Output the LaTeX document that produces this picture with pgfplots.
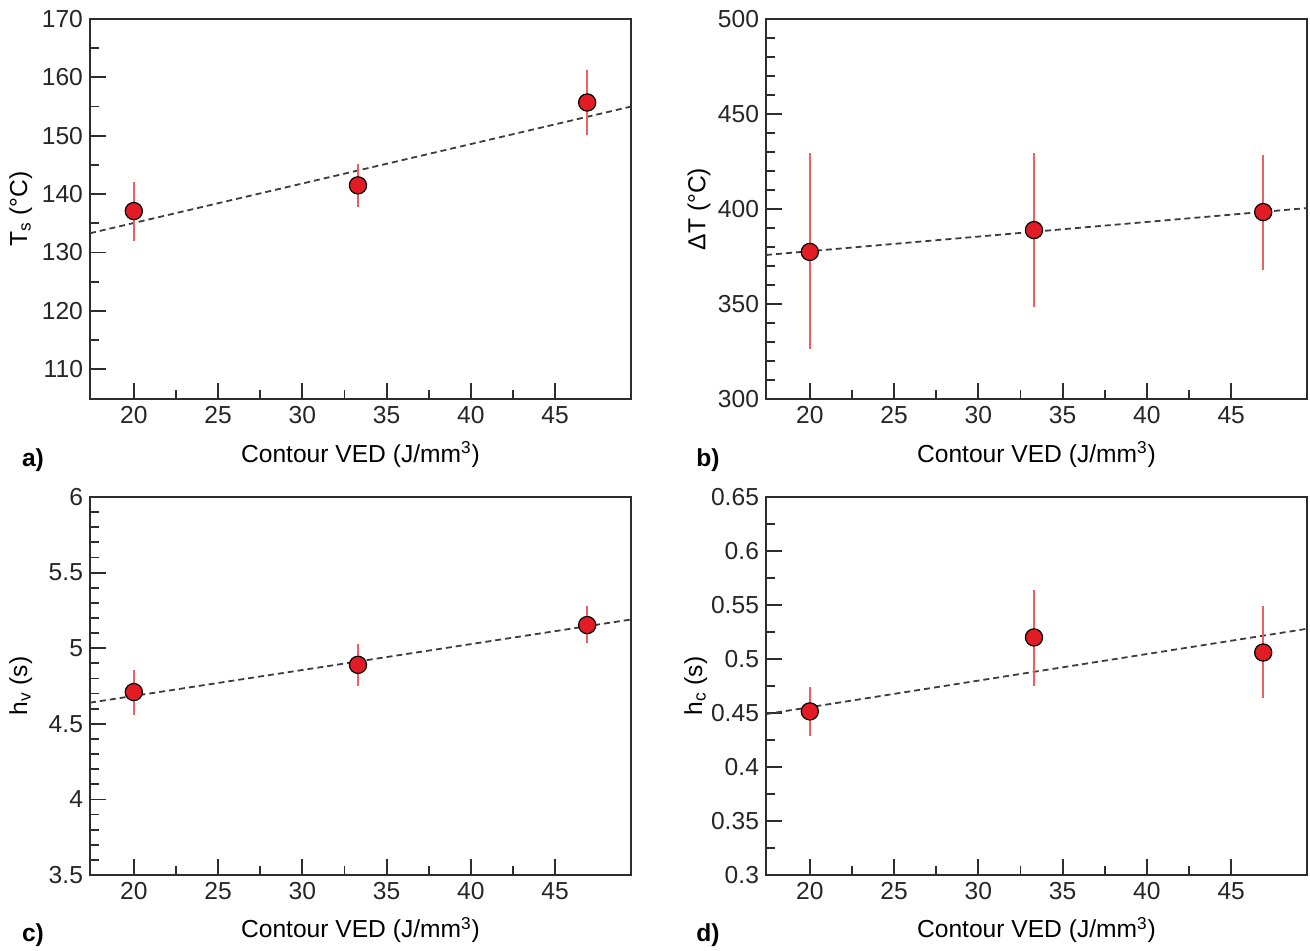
\documentclass[border=0pt]{standalone}
\usepackage{pgfplots}
\pgfplotsset{compat=1.18}
\usepackage{pgfplotstable}
\usepackage{fontspec}
\setmainfont{Liberation Sans}
\definecolor{mred}{RGB}{226,28,36}
\definecolor{ered}{RGB}{236,96,96}
\definecolor{axgray}{RGB}{45,45,45}
\definecolor{lgray}{RGB}{60,60,60}

\pgfplotstableread{
x y ep em
20 137.1 5.0 5.1
33.3 141.5 3.6 3.7
46.9 155.7 5.6 5.6
}\tA
\pgfplotstableread{
x y ep em
20 377.4 52.0 51.0
33.3 388.9 40.6 40.5
46.9 398.4 30.0 30.5
}\tB
\pgfplotstableread{
x y ep em
20 4.71 0.146 0.152
33.3 4.89 0.140 0.140
46.9 5.153 0.127 0.118
}\tC
\pgfplotstableread{
x y ep em
20 0.4515 0.023 0.023
33.3 0.520 0.044 0.045
46.9 0.506 0.043 0.042
}\tD

\pgfplotsset{
 myax/.style={
  scale only axis, width=270.5pt,
  xmin=17.4, xmax=49.5, xtick={20,25,...,45}, minor x tick num=1,
  tick align=inside, tick pos=left,
  major tick length=8pt, minor tick length=4.5pt,
  axis line style={axgray, line width=0.9pt},
  every tick/.style={axgray, line width=0.9pt},
  tick label style={font=\fontsize{12.3}{14}\selectfont, text=black!85},
  label style={font=\fontsize{12.3}{14}\selectfont},
  /pgf/number format/assume math mode=true,
  xlabel={Contour VED (J/mm\textsuperscript{3})},
  anchor=north west,
  clip=true,
 },
 errp/.style={only marks, mark=none, forget plot,
  error bars/.cd, y dir=both, y explicit, error mark=none,
  error bar style={ered, line width=0.9pt}},
 markp/.style={only marks, mark=*, mark size=4.3pt,
  mark options={fill=mred, draw=black, line width=0.6pt}},
 fitp/.style={lgray, dash pattern=on 3pt off 2pt, line width=0.9pt},
}

\begin{document}
\begin{tikzpicture}
\useasboundingbox (0,0) rectangle (655pt,-475pt);

% a)
\begin{axis}[myax, at={(45pt,-9.5pt)}, height=190pt,
  ymin=104.9, ymax=170, ytick={110,120,...,170}, minor y tick num=1,
  xlabel style={at={(axis description cs:0.5,-0.147)}, anchor=center},
  ylabel={T\textsubscript{s} (°C)},
  ylabel style={at={(axis description cs:-0.128,0.5)}, anchor=center}]
\addplot[fitp] coordinates {(17.4,133.3) (49.5,155.0)};
\addplot[errp] table[x=x, y=y, y error plus=ep, y error minus=em]{\tA};
\addplot[markp] table[x=x, y=y]{\tA};
\end{axis}

% b)
\begin{axis}[myax, at={(383pt,-9.5pt)}, height=190pt,
  ymin=300, ymax=500, ytick={300,350,...,500}, minor y tick num=4,
  xlabel style={at={(axis description cs:0.5,-0.147)}, anchor=center},
  ylabel={ΔT (°C)},
  ylabel style={at={(axis description cs:-0.124,0.5)}, anchor=center}]
\addplot[fitp] coordinates {(17.4,375.8) (49.5,400.5)};
\addplot[errp] table[x=x, y=y, y error plus=ep, y error minus=em]{\tB};
\addplot[markp] table[x=x, y=y]{\tB};
\end{axis}

% c)
\begin{axis}[myax, at={(45pt,-248.5pt)}, height=189pt,
  ymin=3.5, ymax=6, ytick={3.5,4,4.5,5,5.5,6}, minor y tick num=4,
  xlabel style={at={(axis description cs:0.5,-0.1455)}, anchor=center},
  ylabel={h\textsubscript{v} (s)},
  ylabel style={at={(axis description cs:-0.128,0.5)}, anchor=center}]
\addplot[fitp] coordinates {(17.4,4.64) (49.5,5.19)};
\addplot[errp] table[x=x, y=y, y error plus=ep, y error minus=em]{\tC};
\addplot[markp] table[x=x, y=y]{\tC};
\end{axis}

% d)
\begin{axis}[myax, at={(383pt,-248.5pt)}, height=189pt,
  ymin=0.3, ymax=0.65, ytick={0.3,0.35,0.4,0.45,0.5,0.55,0.6,0.65}, minor y tick num=1,
  xlabel style={at={(axis description cs:0.5,-0.1455)}, anchor=center},
  ylabel={h\textsubscript{c} (s)},
  ylabel style={at={(axis description cs:-0.130,0.5)}, anchor=center}]
\addplot[fitp] coordinates {(17.4,0.449) (49.5,0.528)};
\addplot[errp] table[x=x, y=y, y error plus=ep, y error minus=em]{\tD};
\addplot[markp] table[x=x, y=y]{\tD};
\end{axis}

\node[font=\bfseries\fontsize{12.3}{14}\selectfont] at (16.5pt,-230pt) {a)};
\node[font=\bfseries\fontsize{12.3}{14}\selectfont] at (354pt,-230pt) {b)};
\node[font=\bfseries\fontsize{12.3}{14}\selectfont] at (16.5pt,-467.5pt) {c)};
\node[font=\bfseries\fontsize{12.3}{14}\selectfont] at (354pt,-467.5pt) {d)};
\end{tikzpicture}
\end{document}
